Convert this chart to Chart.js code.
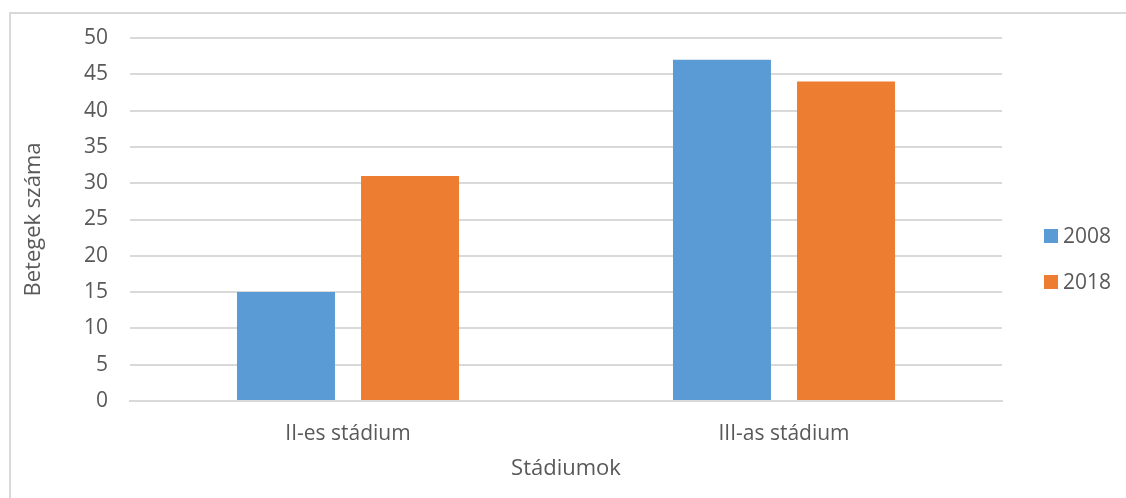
<!DOCTYPE html>
<html>
<head>
<meta charset="utf-8">
<script src="https://cdn.jsdelivr.net/npm/chart.js@4"></script>
<style>
  html, body { margin: 0; padding: 0; background: #fff; }
  #wrap { width: 1126px; height: 498px; }
</style>
</head>
<body>
<div id="wrap"><canvas id="chart"></canvas></div>
<script>
// adatok
const categories = ['II-es stádium', 'III-as stádium'];
const series2008 = [15, 47];
const series2018 = [31, 44];
const seriesLabels = ['2008', '2018'];
const yTicks = [0, 5, 10, 15, 20, 25, 30, 35, 40, 45, 50];

const textColor = '#595959';
const gridColor = '#d9d9d9';
const fontFamily = '"Open Sans", sans-serif';

// keret + jelmagyarázat
const frameAndLegend = {
    id: 'frameAndLegend',
    afterDraw(chart) {
        const ctx = chart.ctx;
        ctx.save();
        ctx.fillStyle = gridColor;
        ctx.fillRect(9, 12, 2, chart.height - 12);
        ctx.fillRect(9, 12, chart.width - 9, 2);

        ctx.font = '21px ' + fontFamily;
        ctx.textBaseline = 'middle';
        const rows = [236, 282];
        chart.data.datasets.forEach((ds, i) => {
            ctx.fillStyle = ds.backgroundColor;
            ctx.fillRect(1044, rows[i] - 7, 14, 14);
            ctx.fillStyle = textColor;
            ctx.fillText(ds.label, 1063, rows[i] + 1);
        });
        ctx.restore();
    }
};

new Chart(document.getElementById('chart'), {
    type: 'bar',
    data: {
        labels: categories,
        datasets: [
            { label: seriesLabels[0], data: series2008, backgroundColor: '#5b9bd5' },
            { label: seriesLabels[1], data: series2018, backgroundColor: '#ed7d31' }
        ]
    },
    options: {
        responsive: true,
        maintainAspectRatio: false,
        animation: false,
        layout: { padding: { left: 0, top: 38, right: 124, bottom: 10 } },
        datasets: {
            bar: { categoryPercentage: 0.569, barPercentage: 0.79 }
        },
        plugins: {
            legend: { display: false },
            tooltip: { enabled: false }
        },
        scales: {
            x: {
                grid: { display: false, drawTicks: false },
                border: { display: true, color: gridColor, width: 2 },
                ticks: { color: textColor, font: { family: fontFamily, size: 21 }, padding: 20 },
                title: {
                    display: true, text: 'Stádiumok', color: textColor,
                    font: { family: fontFamily, size: 22 }, padding: { top: 0, bottom: 6 }
                },
                afterFit: scale => { scale.height = 87; }
            },
            y: {
                min: 0,
                max: 50,
                afterBuildTicks: scale => { scale.ticks = yTicks.map(v => ({ value: v })); },
                grid: { color: gridColor, lineWidth: 2, drawTicks: false },
                border: { display: false },
                ticks: { color: textColor, font: { family: fontFamily, size: 21 }, padding: 22 },
                title: {
                    display: true, text: 'Betegek száma', color: textColor,
                    font: { family: fontFamily, size: 22 }, padding: { top: 21, bottom: 0 }
                },
                afterFit: scale => { scale.width = 130; }
            }
        }
    },
    plugins: [frameAndLegend]
});
</script>
</body>
</html>
